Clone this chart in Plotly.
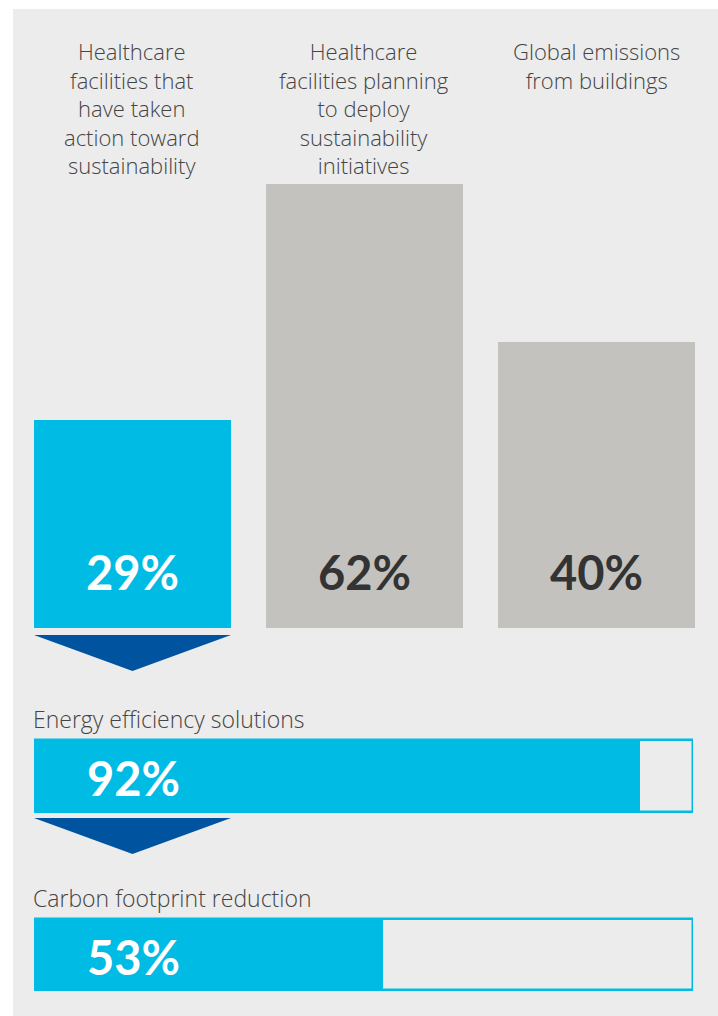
import plotly.graph_objects as go

# ---- data ----
col_labels = ["Healthcare<br>facilities that<br>have taken<br>action toward<br>sustainability",
              "Healthcare<br>facilities planning<br>to deploy<br>sustainability<br>initiatives",
              "Global emissions<br>from buildings"]
col_values = [29, 62, 40]
col_colors = ["#00bbe3", "#c3c2bf", "#c3c2bf"]
col_text_colors = ["#ffffff", "#333333", "#333333"]

row_labels = ["Energy efficiency solutions", "Carbon footprint reduction"]
row_values = [92, 53]

W, H = 718, 1016
def px(x):
    return x / W
def py(y):
    return 1 - y / H

BLUE = "#00bbe3"
DARK = "#00549f"
PANEL = "#ececec"
LFONT = "Open Sans"
NFONT = "Lato"

fig = go.Figure()

# vertical bars
fig.add_trace(go.Bar(
    x=[0, 1, 2], y=col_values, width=0.85,
    marker=dict(color=col_colors, line=dict(width=0)),
    hoverinfo="skip", showlegend=False, xaxis="x", yaxis="y"))

# horizontal bars: outline (100%) + fill
fig.add_trace(go.Bar(
    y=[0, 1], x=[100, 100], orientation="h", width=0.4,
    marker=dict(color="rgba(0,0,0,0)", line=dict(color=BLUE, width=2.5)),
    hoverinfo="skip", showlegend=False, xaxis="x2", yaxis="y2"))
fig.add_trace(go.Bar(
    y=[0, 1], x=row_values, orientation="h", width=0.4,
    marker=dict(color=BLUE, line=dict(width=0)),
    hoverinfo="skip", showlegend=False, xaxis="x2", yaxis="y2"))

# axis geometry (pixels)
base_px, top_px = 628, 184
x_left, x_right = 16.5, 712
h_left, h_right = 34, 693
row0_px, row_step = 776, 178.5
h_dom_top = 690
r_top = (h_dom_top - row0_px) / row_step
r_bot = (H - row0_px) / row_step

annotations = []
for i, (lab, v, tc) in enumerate(zip(col_labels, col_values, col_text_colors)):
    annotations.append(dict(x=i, y=py(34), xref="x", yref="paper", yanchor="top",
                            text=lab, showarrow=False, align="center",
                            font=dict(family=LFONT, size=22, color="#444444", weight=300)))
    annotations.append(dict(x=i, y=0, xref="x", yref="y", yanchor="middle",
                            text=f"{v}%", showarrow=False, yshift=56,
                            font=dict(family=NFONT, size=47, color=tc, weight=700)))

for i, (lab, v) in enumerate(zip(row_labels, row_values)):
    annotations.append(dict(x=0, y=i, xref="x2", yref="y2", xanchor="left", yanchor="middle",
                            text=lab, showarrow=False, xshift=-3, yshift=57,
                            font=dict(family=LFONT, size=23, color="#444444", weight=300)))
    annotations.append(dict(x=0, y=i, xref="x2", yref="y2", xanchor="center", yanchor="middle",
                            text=f"{v}%", showarrow=False, xshift=99, yshift=-2,
                            font=dict(family=NFONT, size=47, color="#ffffff", weight=700)))

shapes = [dict(type="rect", xref="paper", yref="paper", x0=px(13), x1=1, y0=0, y1=py(9),
               fillcolor=PANEL, line=dict(width=0), layer="below")]

def tri(top, apex):
    return dict(type="path", xref="paper", yref="paper",
                path=f"M {px(34)},{py(top)} L {px(231)},{py(top)} L {px(132.5)},{py(apex)} Z",
                fillcolor=DARK, line=dict(width=0), layer="above")
shapes.append(tri(635, 671))
shapes.append(tri(818, 854))

fig.update_layout(
    width=W, height=H, margin=dict(l=0, r=0, t=0, b=0),
    paper_bgcolor="#ffffff", plot_bgcolor="rgba(0,0,0,0)",
    barmode="overlay", bargap=0,
    xaxis=dict(domain=[px(x_left), px(x_right)], range=[-0.5, 2.5], visible=False, fixedrange=True),
    yaxis=dict(domain=[py(base_px), py(top_px)], range=[0, 62], visible=False, fixedrange=True),
    xaxis2=dict(domain=[px(h_left), px(h_right)], range=[0, 100], visible=False, anchor="y2", fixedrange=True),
    yaxis2=dict(domain=[0, py(h_dom_top)], range=[r_bot, r_top], visible=False, anchor="x2", fixedrange=True),
    annotations=annotations, shapes=shapes,
)

fig.write_html("out.html", config={"displayModeBar": False},
               post_script="document.body.style.margin='0';document.body.style.overflow='hidden';")
